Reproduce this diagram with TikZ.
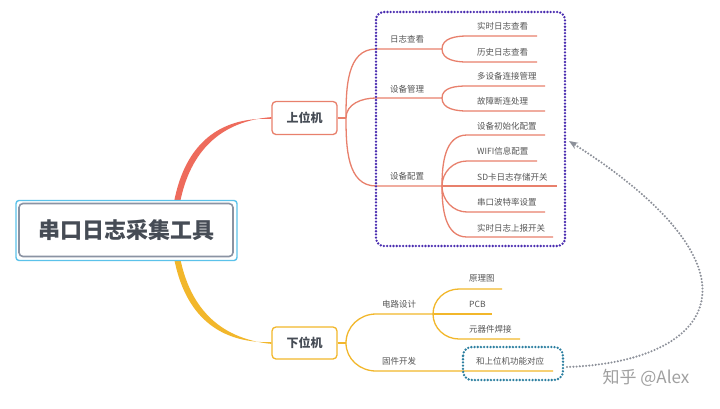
\documentclass[tikz,border=0pt]{standalone}
\usepackage{fontspec}
\setmainfont{Noto Sans CJK SC}
\usetikzlibrary{arrows.meta}
\definecolor{coral}{HTML}{E8806C}
\definecolor{trunkred}{HTML}{EE6B5C}
\definecolor{gold}{HTML}{F2B72B}
\definecolor{txt}{HTML}{555555}
\definecolor{roottxt}{HTML}{464C55}
\definecolor{rootgray}{HTML}{8A93A3}
\definecolor{rootcyan}{HTML}{5BC2EA}
\definecolor{purpdot}{HTML}{4A2DB0}
\definecolor{tealdot}{HTML}{2C7FA0}
\definecolor{arrgray}{HTML}{8C9099}
\definecolor{wm}{HTML}{A0A0A0}
\tikzset{
  lab/.style={text=txt, font=\fontsize{8.5}{10}\selectfont, inner sep=0pt, anchor=west},
  redline/.style={draw=coral, line width=1.3pt},
  goldline/.style={draw=gold, line width=1.3pt},
  up/.style={out=90, in=180},
  dn/.style={out=-90, in=180},
  dotbox/.style={line width=2.6pt, dash pattern=on 0pt off 3.2pt, line cap=round, rounded corners=8pt},
  l1box/.style={draw, line width=1.3pt, rounded corners=4pt, fill=white, minimum width=65pt, minimum height=33pt, text=roottxt, font=\bfseries\fontsize{12}{14}\selectfont}
}
\begin{document}
\begin{tikzpicture}[x=1pt,y=-1pt]
\useasboundingbox (0,0) rectangle (720,408);
\fill[white] (0,0) rectangle (720,408);

% level-1 nodes
\node[l1box, draw=coral] (hi) at (304.5,118) {上位机};
\node[l1box, draw=gold, minimum height=32pt] (lo) at (304.5,343) {下位机};

% tapered trunks
\coordinate (rootup) at (173,208);
\coordinate (rootdn) at (173,252);
\fill[trunkred] (rootup) .. controls (182,150) and (214,116.3) .. ([yshift=-0.9pt]hi.west)
   -- ([yshift=0.9pt]hi.west) .. controls (218,121.5) and (188,154) .. ([xshift=6pt]rootup) -- cycle;
\fill[gold] (rootdn) .. controls (182,310) and (214,343.7) .. ([yshift=0.9pt]lo.west)
   -- ([yshift=-0.9pt]lo.west) .. controls (218,338.5) and (188,306) .. ([xshift=6pt]rootdn) -- cycle;

% root
\node[draw=rootcyan, line width=1.4pt, rounded corners=3pt, fill=white, minimum width=221pt, minimum height=60pt] (rootframe) at (126.5,230.5) {};
\node[draw=rootgray, line width=1.6pt, rounded corners=4pt, fill=white, minimum width=214pt, minimum height=53pt, text=roottxt, font=\bfseries\fontsize{22}{26}\selectfont] (root) at (126,230) {串口日志采集工具};

% ===== upper branch =====
\coordinate (hb) at (346,118);
\draw[redline] (hi.east) -- (hb);
\coordinate (a1s) at (376,49);  \coordinate (a1e) at (442,49);
\coordinate (a2s) at (376,98);  \coordinate (a2e) at (442,98);
\coordinate (a3s) at (376,186); \coordinate (a3e) at (442,186);
\draw[redline] (hb) to[up] (a1s) -- (a1e);
\draw[redline] (hb) to[up] (a2s) -- (a2e);
\draw[redline] (hb) to[dn] (a3s) -- (a3e);
\node[lab] (t1) at (390,39) {日志查看};
\node[lab] (t2) at (390,89) {设备管理};
\node[lab] (t3) at (390,176) {设备配置};

% sub of 日志查看
\coordinate (b1s) at (467,36);  \coordinate (b1e) at (537,36);
\coordinate (b2s) at (467,62);  \coordinate (b2e) at (537,62);
\draw[redline] (a1e) to[up] (b1s) -- (b1e);
\draw[redline] (a1e) to[dn] (b2s) -- (b2e);
\node[lab] (s1) at (477,26.5) {实时日志查看};
\node[lab] (s2) at (477,52) {历史日志查看};

% sub of 设备管理
\coordinate (c1s) at (467,86);  \coordinate (c1e) at (545,86);
\coordinate (c2s) at (467,111); \coordinate (c2e) at (545,111);
\draw[redline] (a2e) to[up] (c1s) -- (c1e);
\draw[redline] (a2e) to[dn] (c2s) -- (c2e);
\node[lab] (s3) at (477,76) {多设备连接管理};
\node[lab] (s4) at (477,101) {故障断连处理};

% sub of 设备配置
\coordinate (d1s) at (467,135); \coordinate (d1e) at (545,135);
\coordinate (d2s) at (467,161); \coordinate (d2e) at (537,161);
\coordinate (d3e) at (557,186);
\coordinate (d4s) at (467,212); \coordinate (d4e) at (545,212);
\coordinate (d5s) at (467,237); \coordinate (d5e) at (553,237);
\draw[redline] (a3e) to[up] (d1s) -- (d1e);
\draw[redline] (a3e) to[up] (d2s) -- (d2e);
\draw[redline] (a3e) -- (d3e);
\draw[redline] (a3e) to[dn] (d4s) -- (d4e);
\draw[redline] (a3e) to[dn] (d5s) -- (d5e);
\node[lab] (s5) at (477,126) {设备初始化配置};
\node[lab] (s6) at (477,151) {WIFI信息配置};
\node[lab] (s7) at (477,177) {SD卡日志存储开关};
\node[lab] (s8) at (477,202) {串口波特率设置};
\node[lab] (s9) at (477,228) {实时日志上报开关};

% purple dotted frame
\coordinate (pf1) at (376,12);
\coordinate (pf2) at (565,246);
\draw[purpdot, dotbox] (pf1) rectangle (pf2);

% ===== lower branch =====
\coordinate (lb) at (346,343);
\draw[goldline] (lo.east) -- (lb);
\coordinate (e1s) at (376,314); \coordinate (e1e) at (433,314);
\coordinate (e2s) at (376,371); \coordinate (e2e) at (553,371);
\draw[goldline] (lb) to[up] (e1s) -- (e1e);
\draw[goldline] (lb) to[dn] (e2s) -- (e2e);
\node[lab] (u1) at (382,304) {电路设计};
\node[lab] (u2) at (382,361) {固件开发};

\coordinate (f1s) at (459,289); \coordinate (f1e) at (502,289);
\coordinate (f2e) at (492,314);
\coordinate (f3s) at (459,339); \coordinate (f3e) at (520,339);
\draw[goldline] (e1e) to[up] (f1s) -- (f1e);
\draw[goldline] (e1e) -- (f2e);
\draw[goldline] (e1e) to[dn] (f3s) -- (f3e);
\node[lab] (v1) at (469,278.5) {原理图};
\node[lab] (v2) at (469,304) {PCB};
\node[lab] (v3) at (469,329) {元器件焊接};
\node[lab] (v4) at (476,361) {和上位机功能对应};

% teal dotted frame
\coordinate (tf1) at (463,347);
\coordinate (tf2) at (563,380);
\draw[tealdot, dotbox, rounded corners=9pt] (tf1) rectangle (tf2);

% gray dotted arrow
\coordinate (arrs) at (567,367);
\coordinate (arre) at (569,141);
\draw[arrgray, line width=2.3pt, dash pattern=on 0pt off 3.2pt, line cap=round, -{Stealth[length=9pt,width=7pt]}]
  (arrs) .. controls (715,362) and (775,272) .. (arre);

% watermark
\node[text=wm, font=\fontsize{17}{20}\selectfont, inner sep=0pt] (wmk) at (646,378) {知乎 @Alex};
\end{tikzpicture}
\end{document}
